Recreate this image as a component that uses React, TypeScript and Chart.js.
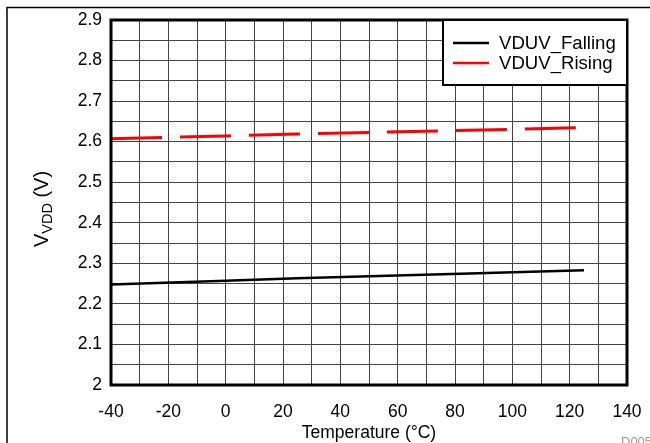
import React, { useEffect, useRef } from "react";
import { Chart, registerables } from "chart.js";

Chart.register(...registerables);

const temperatures = [-40, 0, 25, 85, 125];
const fallingValues = [2.248, 2.257, 2.263, 2.275, 2.283];
const risingValues = [2.607, 2.614, 2.619, 2.628, 2.635];
const seriesNames = ["VDUV_Falling", "VDUV_Rising"];
const xTickValues = [-40, -20, 0, 20, 40, 60, 80, 100, 120, 140];
const yTickValues = [2, 2.1, 2.2, 2.3, 2.4, 2.5, 2.6, 2.7, 2.8, 2.9];
const xTitle = "Temperature (°C)";
const yTitleMain = "V";
const yTitleSub = "VDD";
const yTitleTail = " (V)";
const figureCode = "D005";

const FONT = "'Liberation Sans', Arial, sans-serif";

const decorPlugin = {
  id: "decor",
  afterDatasetsDraw(chart: any) {
    const { ctx, chartArea } = chart;
    const { left, top, right, bottom } = chartArea;
    ctx.save();
    // plot border
    ctx.strokeStyle = "#000";
    ctx.lineWidth = 3;
    ctx.strokeRect(left, top, right - left, bottom - top);

    // legend box
    const lx = 443, ly = top, lw = right - 443, lh = 65;
    ctx.fillStyle = "#fff";
    ctx.fillRect(lx, ly, lw, lh);
    ctx.lineWidth = 2;
    ctx.strokeRect(lx, ly, lw, lh);
    const ds = chart.data.datasets;
    ctx.font = `18.6px ${FONT}`;
    ctx.textBaseline = "middle";
    ctx.textAlign = "left";
    ds.forEach((d: any, i: number) => {
      const y = 43 + i * 20;
      ctx.strokeStyle = d.borderColor;
      ctx.lineWidth = 2.5;
      ctx.setLineDash([]);
      ctx.beginPath();
      ctx.moveTo(453, y);
      ctx.lineTo(489, y);
      ctx.stroke();
      ctx.fillStyle = "#000";
      ctx.fillText(d.label, 499, y + 1);
    });

    // x title
    ctx.font = `17.5px ${FONT}`;
    ctx.textAlign = "center";
    ctx.textBaseline = "middle";
    ctx.fillStyle = "#000";
    ctx.fillText(xTitle, (left + right) / 2, 433);

    // y title with subscript
    const mainFont = `20px ${FONT}`;
    const subFont = `14.5px ${FONT}`;
    ctx.font = mainFont;
    const w1 = ctx.measureText(yTitleMain).width;
    const w3 = ctx.measureText(yTitleTail).width;
    ctx.font = subFont;
    const w2 = ctx.measureText(yTitleSub).width;
    const total = w1 + w2 + w3;
    ctx.translate(48, 209);
    ctx.rotate(-Math.PI / 2);
    ctx.textAlign = "left";
    ctx.textBaseline = "alphabetic";
    let x = -total / 2;
    ctx.font = mainFont;
    ctx.fillText(yTitleMain, x, 0);
    x += w1;
    ctx.font = subFont;
    ctx.fillText(yTitleSub, x, 4);
    x += w2;
    ctx.font = mainFont;
    ctx.fillText(yTitleTail, x, 0);
    ctx.restore();

    // frame lines
    ctx.save();
    ctx.strokeStyle = "#000";
    ctx.lineWidth = 1.5;
    ctx.beginPath();
    ctx.moveTo(7, 443);
    ctx.lineTo(7, 7.5);
    ctx.lineTo(650, 7.5);
    ctx.stroke();
    ctx.font = `13px ${FONT}`;
    ctx.fillStyle = "#9a9a9a";
    ctx.textAlign = "left";
    ctx.textBaseline = "alphabetic";
    ctx.fillText(figureCode, 621, 446);
    ctx.restore();
  },
};

export default function App() {
  const ref = useRef<HTMLCanvasElement>(null);
  useEffect(() => {
    if (!ref.current) return;
    const chart = new Chart(ref.current, {
      type: "line",
      data: {
        datasets: [
          {
            label: seriesNames[0],
            data: temperatures.map((t, i) => ({ x: t, y: fallingValues[i] })),
            borderColor: "#000000",
            borderWidth: 2.5,
            pointRadius: 0,
            fill: false,
          },
          {
            label: seriesNames[1],
            data: temperatures.map((t, i) => ({ x: t, y: risingValues[i] })),
            borderColor: "#ff0000",
            borderWidth: 3,
            borderDash: [51, 18],
            pointRadius: 0,
            fill: false,
          },
        ],
      },
      options: {
        responsive: false,
        animation: false,
        devicePixelRatio: 1,
        layout: { padding: { left: 0, top: 20, right: 23, bottom: 0 } },
        plugins: { legend: { display: false }, tooltip: { enabled: false } },
        scales: {
          x: {
            type: "linear",
            min: xTickValues[0],
            max: xTickValues[xTickValues.length - 1],
            afterFit: (s: any) => {
              s.height = 58;
              s.paddingLeft = 0;
              s.paddingRight = 0;
            },
            afterBuildTicks: (s: any) => {
              const t: any[] = [];
              for (let v = xTickValues[0]; v <= xTickValues[xTickValues.length - 1]; v += 10) t.push({ value: v });
              s.ticks = t;
            },
            ticks: {
              autoSkip: false,
              maxRotation: 0,
              padding: 17,
              color: "#000",
              font: { family: FONT, size: 17.5 },
              callback: (v: any) => (xTickValues.includes(Number(v)) ? String(v) : ""),
            },
            grid: { color: "#444", lineWidth: 1, drawTicks: false },
            border: { display: false },
          },
          y: {
            type: "linear",
            min: yTickValues[0],
            max: yTickValues[yTickValues.length - 1],
            afterFit: (s: any) => {
              s.width = 111;
              s.paddingTop = 0;
              s.paddingBottom = 0;
            },
            afterBuildTicks: (s: any) => {
              const t: any[] = [];
              for (let k = 0; k <= 18; k++) t.push({ value: Math.round((yTickValues[0] + k * 0.05) * 100) / 100 });
              s.ticks = t;
            },
            ticks: {
              autoSkip: false,
              padding: 9,
              color: "#000",
              font: { family: FONT, size: 17.5 },
              callback: (v: any) => {
                const n = Number(v);
                const hit = yTickValues.find((y) => Math.abs(y - n) < 1e-6);
                return hit !== undefined ? String(hit) : "";
              },
            },
            grid: { color: "#444", lineWidth: 1, drawTicks: false },
            border: { display: false },
          },
        },
      },
      plugins: [decorPlugin],
    });
    return () => chart.destroy();
  }, []);
  return (
    <div style={{ position: "fixed", left: 0, top: 0, width: 650, height: 443, background: "#fff" }}>
      <canvas ref={ref} width={650} height={443} />
    </div>
  );
}
